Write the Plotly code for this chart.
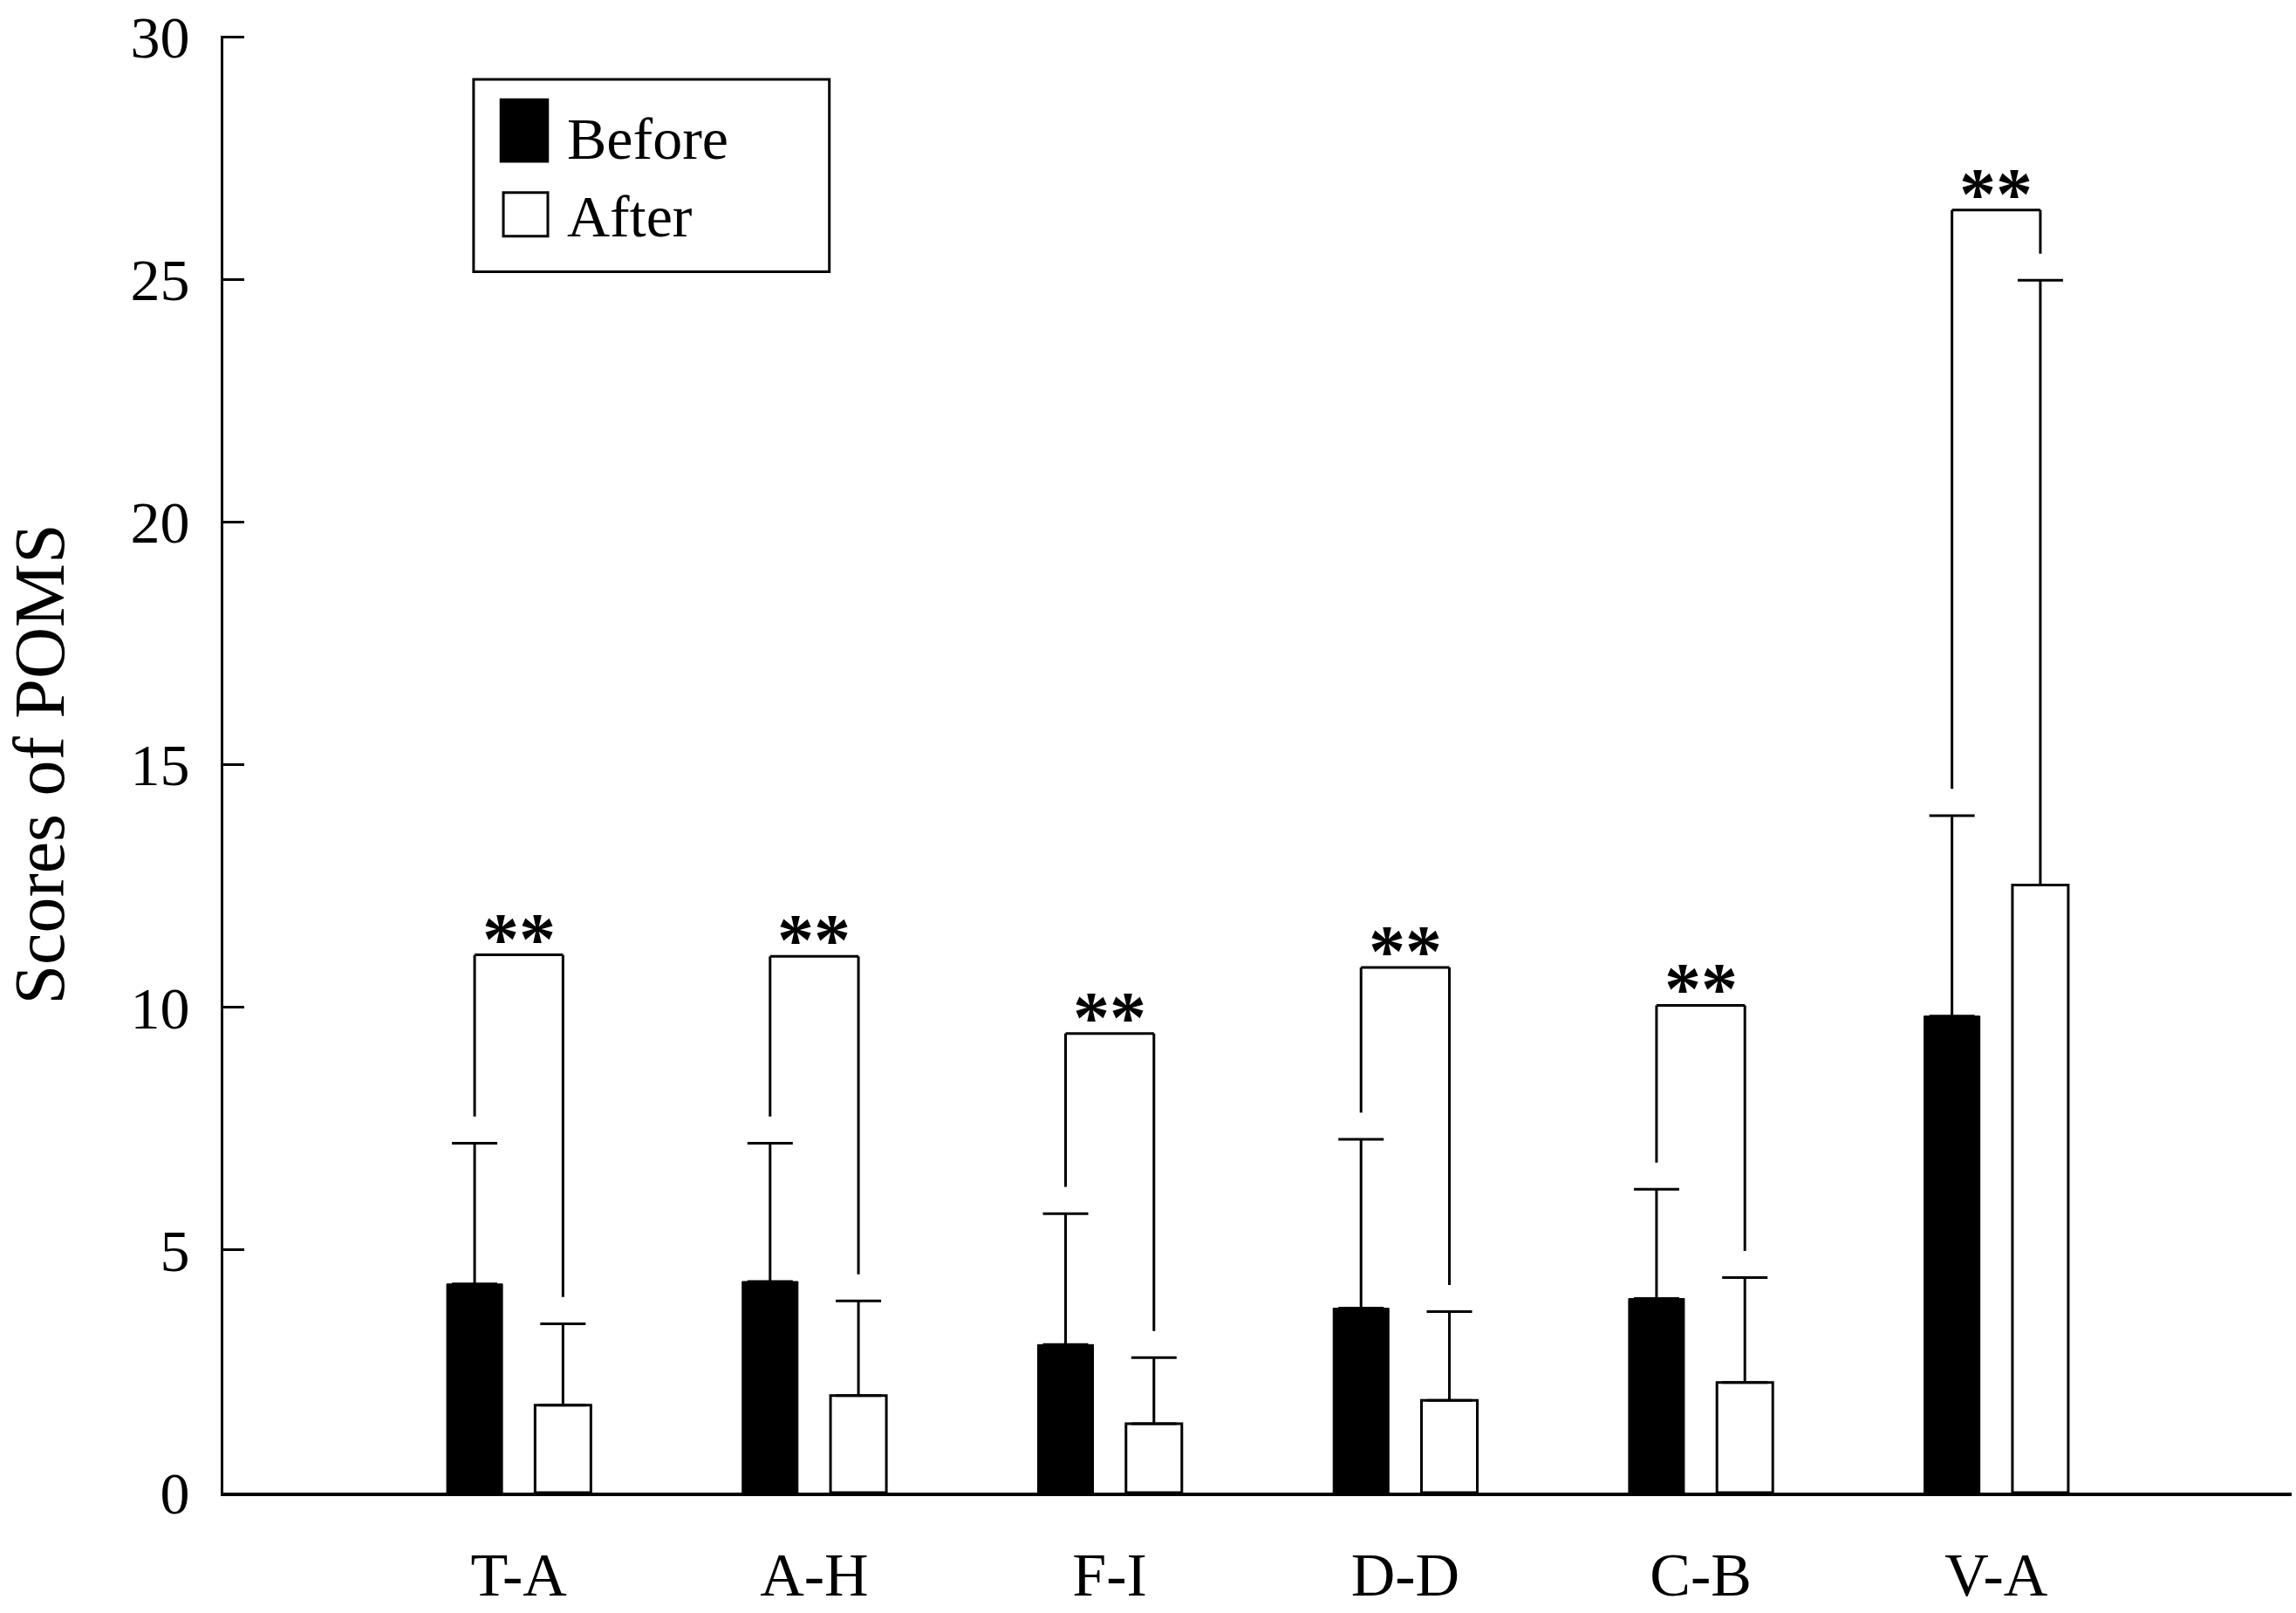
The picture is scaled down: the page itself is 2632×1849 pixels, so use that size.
import plotly.graph_objects as go

# POMS subscale scores, mean and SD
categories = ["T-A", "A-H", "F-I", "D-D", "C-B", "V-A"]
before_mean = [4.30, 4.35, 3.05, 3.80, 4.00, 9.82]
before_sd = [2.90, 2.85, 2.70, 3.48, 2.25, 4.13]
after_mean = [1.80, 2.00, 1.42, 1.90, 2.27, 12.52]
after_sd = [1.68, 1.95, 1.36, 1.83, 2.16, 12.46]
sig_height = [11.08, 11.05, 9.46, 10.82, 10.04, 26.43]
sig_label = ["**", "**", "**", "**", "**", "**"]
y_ticks = [0, 5, 10, 15, 20, 25, 30]

FONT = "Liberation Serif"
BAR_W = 0.189
OFF_BEFORE = -0.244
OFF_AFTER = 0.055
LEG_GAP = 0.55

fig = go.Figure()

fig.add_trace(go.Bar(
    name="Before", x=categories, y=before_mean,
    width=BAR_W, offset=OFF_BEFORE,
    marker=dict(color="black", line=dict(color="black", width=1)),
    error_y=dict(type="data", array=before_sd, arrayminus=[0] * len(before_sd),
                 symmetric=False, color="black", thickness=3, width=26),
))
fig.add_trace(go.Bar(
    name="After", x=categories, y=after_mean,
    width=BAR_W, offset=OFF_AFTER,
    marker=dict(color="white", line=dict(color="black", width=3)),
    error_y=dict(type="data", array=after_sd, arrayminus=[0] * len(after_sd),
                 symmetric=False, color="black", thickness=3, width=26),
))

# significance brackets
line_style = dict(color="black", width=3)
for i, h in enumerate(sig_height):
    xb = i + OFF_BEFORE + BAR_W / 2
    xa = i + OFF_AFTER + BAR_W / 2
    yb = before_mean[i] + before_sd[i] + LEG_GAP
    ya = after_mean[i] + after_sd[i] + LEG_GAP
    fig.add_shape(type="line", xref="x", yref="y", x0=xb, x1=xb, y0=yb, y1=h, line=line_style)
    fig.add_shape(type="line", xref="x", yref="y", x0=xb, x1=xa, y0=h, y1=h, line=line_style)
    fig.add_shape(type="line", xref="x", yref="y", x0=xa, x1=xa, y0=h, y1=ya, line=line_style)
    fig.add_annotation(x=i, y=h, xref="x", yref="y", text="<b>" + sig_label[i] + "</b>",
                       showarrow=False, yanchor="bottom", yshift=-30,
                       font=dict(family=FONT, size=84, color="black"))

# hand-drawn legend box (plotly legend icons are too small)
fig.add_shape(type="rect", xref="paper", yref="paper", x0=0.121, x1=0.293, y0=0.838, y1=0.970,
              line=dict(color="black", width=3), fillcolor="white")
fig.add_shape(type="rect", xref="paper", yref="paper", x0=0.134, x1=0.157, y0=0.9135, y1=0.9565,
              line=dict(color="black", width=2), fillcolor="black")
fig.add_shape(type="rect", xref="paper", yref="paper", x0=0.1354, x1=0.1569, y0=0.8624, y1=0.8924,
              line=dict(color="black", width=3), fillcolor="white")
fig.add_annotation(x=0.1655, y=0.9291, xref="paper", yref="paper", text="Before", showarrow=False,
                   xanchor="left", yanchor="middle", font=dict(family=FONT, size=68, color="black"))
fig.add_annotation(x=0.1655, y=0.8762, xref="paper", yref="paper", text="After", showarrow=False,
                   xanchor="left", yanchor="middle", font=dict(family=FONT, size=68, color="black"))

fig.update_layout(
    width=2632, height=1849,
    margin=dict(l=256, r=5, t=33, b=116),
    barmode="overlay",
    showlegend=False,
    plot_bgcolor="white", paper_bgcolor="white",
    font=dict(family=FONT, color="black"),
)
fig.update_xaxes(
    type="category", range=[-1, 6],
    showline=True, linewidth=4, linecolor="black",
    ticks="", showgrid=False, zeroline=False,
    tickfont=dict(family=FONT, size=70, color="black"),
    ticklabelstandoff=30,
)
fig.update_yaxes(
    range=[0, 30.02], tickvals=y_ticks,
    showline=True, linewidth=3, linecolor="black",
    ticks="inside", ticklen=24, tickwidth=3, tickcolor="black",
    showgrid=False, zeroline=False,
    tickfont=dict(family=FONT, size=68, color="black"),
    ticklabelstandoff=22, ticklabeloverflow="allow",
    title=dict(text="Scores of POMS", font=dict(family=FONT, size=82, color="black"), standoff=72),
)

fig.write_html("out.html", config={"displayModeBar": False},
               post_script="document.body.style.margin='0';")
